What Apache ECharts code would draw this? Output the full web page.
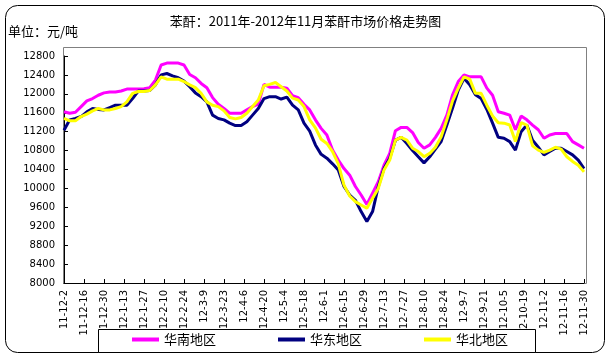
<!DOCTYPE html>
<html><head><meta charset="utf-8">
<script src="https://cdn.jsdelivr.net/npm/echarts@6/dist/echarts.min.js"></script>
<style>html,body{margin:0;padding:0;background:#fff}#c{width:611px;height:359px}</style>
</head><body><div id="c"></div>
<script>
const titleText = '苯酐：2011年-2012年11月苯酐市场价格走势图';
const unitText = '单位：元/吨';
const seriesNames = ['华南地区', '华东地区', '华北地区'];
const seriesColors = ['#FF00FF', '#000080', '#FFFF00'];
const tickLabels = ['11-12-2','11-12-16','11-12-30','12-1-13','12-1-27','12-2-10','12-2-24','12-3-9','12-3-23','12-4-6','12-4-20','12-5-4','12-5-18','12-6-1','12-6-15','12-6-29','12-7-13','12-7-27','12-8-10','12-8-24','12-9-7','12-9-21','12-10-5','12-10-19','12-11-2','12-11-16','12-11-30'];
const startDate = '2011-12-02';
const dates = [
 '2011-12-02','2011-12-06','2011-12-10','2011-12-14','2011-12-18','2011-12-22','2011-12-26','2011-12-30','2012-01-03','2012-01-07',
 '2012-01-11','2012-01-15','2012-01-19','2012-01-23','2012-01-27','2012-01-31','2012-02-04','2012-02-08','2012-02-12','2012-02-16',
 '2012-02-20','2012-02-24','2012-02-28','2012-03-03','2012-03-07','2012-03-11','2012-03-15','2012-03-19','2012-03-23','2012-03-27',
 '2012-03-31','2012-04-04','2012-04-08','2012-04-12','2012-04-16','2012-04-20','2012-04-24','2012-04-28','2012-05-02','2012-05-06',
 '2012-05-10','2012-05-14','2012-05-18','2012-05-22','2012-05-26','2012-05-30','2012-06-03','2012-06-07','2012-06-11','2012-06-15',
 '2012-06-19','2012-06-23','2012-06-27','2012-07-01','2012-07-05','2012-07-09','2012-07-13','2012-07-17','2012-07-21','2012-07-25',
 '2012-07-29','2012-08-02','2012-08-06','2012-08-10','2012-08-14','2012-08-18','2012-08-22','2012-08-26','2012-08-30','2012-09-03',
 '2012-09-07','2012-09-11','2012-09-15','2012-09-19','2012-09-23','2012-09-27','2012-10-01','2012-10-05','2012-10-09','2012-10-13',
 '2012-10-17','2012-10-21','2012-10-25','2012-10-29','2012-11-02','2012-11-06','2012-11-10','2012-11-14','2012-11-18','2012-11-22',
 '2012-11-26','2012-11-30'];
const south = [
 11620,11590,11610,11730,11850,11900,11970,12020,12040,12040,
 12060,12100,12100,12100,12110,12130,12290,12610,12650,12650,
 12650,12610,12410,12340,12220,12130,11920,11780,11690,11590,
 11590,11590,11660,11730,11780,12200,12140,12140,12140,12120,
 11960,11920,11780,11660,11450,11270,11130,10810,10600,10420,
 10280,10040,9860,9660,9900,10140,10490,10740,11220,11290,
 11290,11180,10970,10850,10920,11080,11270,11550,11980,12260,
 12400,12360,12360,12360,12120,11970,11620,11590,11550,11240,
 11530,11450,11340,11240,11060,11130,11160,11160,11160,10990,
 10920,10850];
const east = [
 11230,11450,11480,11520,11620,11690,11670,11660,11710,11760,
 11760,11760,11900,12060,12060,12070,12190,12400,12430,12380,
 12340,12270,12150,12020,11940,11830,11550,11480,11450,11380,
 11330,11330,11410,11550,11690,11900,11940,11940,11890,11930,
 11760,11660,11380,11210,10920,10720,10640,10520,10390,10040,
 9860,9750,9510,9300,9510,10040,10420,10640,11020,11080,
 10950,10800,10670,10540,10670,10830,10990,11340,11700,12080,
 12330,12190,11980,11900,11670,11380,11080,11060,10990,10810,
 11200,11340,11020,10870,10710,10780,10850,10850,10780,10710,
 10600,10420];
const north = [
 11480,11430,11430,11520,11570,11640,11690,11660,11660,11690,
 11730,11830,12010,12050,12050,12070,12190,12360,12310,12310,
 12310,12260,12190,12130,12010,11830,11760,11730,11640,11500,
 11470,11500,11590,11730,11870,12170,12200,12240,12150,12060,
 11910,11870,11730,11450,11280,11040,10950,10780,10520,10070,
 9840,9720,9650,9580,9790,10000,10390,10600,11020,11080,
 11020,10850,10780,10670,10740,10870,11090,11450,11850,12120,
 12360,12310,12010,12010,11760,11530,11390,11380,11340,10990,
 11390,11340,10900,10810,10760,10810,10870,10830,10670,10570,
 10490,10350];
const yMin = 8000, yMax = 12800, yStep = 400;
const xStepDays = 14;

const DAY = 86400000;
const dayOf = s => Math.round((Date.parse(s) - Date.parse(startDate)) / DAY);
const xDays = dates.map(dayOf);
const lastDay = dayOf('2012-11-30');
const pair = arr => arr.map((v, i) => [xDays[i], v]);
const values = [south, east, north];

const chart = echarts.init(document.getElementById('c'), null, {renderer: 'canvas'});
const font = 'DejaVu Sans';
const cjk = '"Noto Sans CJK SC", sans-serif';
chart.setOption({
  animation: false,
  backgroundColor: '#fff',
  title: {
    text: titleText, left: 'center', top: 10,
    textStyle: {fontFamily: cjk, fontSize: 13, fontWeight: 'normal', color: '#000'}
  },
  graphic: [
    {type: 'rect', z: 0, shape: {x: 5.5, y: 5.5, width: 599, height: 347, r: 12}, style: {fill: 'none', stroke: '#000', lineWidth: 1}},
    {type: 'text', z: 0, left: 8, top: 25, style: {text: unitText, font: '13px ' + cjk, fill: '#000'}},
    {type: 'rect', z: -1, shape: {x: 63.5, y: 47.5, width: 523, height: 236}, style: {fill: 'none', stroke: '#808080', lineWidth: 1}},
    {type: 'rect', z: 100, shape: {x: 98.5, y: 329.5, width: 437, height: 23}, style: {fill: '#fff', stroke: '#000', lineWidth: 1}}
  ],
  legend: {
    z: 200, left: 132, top: 333, padding: 0, icon: 'rect', itemWidth: 27, itemHeight: 4, itemGap: 62,
    textStyle: {fontFamily: cjk, fontSize: 13, color: '#000'},
    data: seriesNames
  },
  grid: {left: 64, right: 611 - 584, top: 56, bottom: 359 - 283, containLabel: false},
  xAxis: {
    type: 'value', min: 0, max: lastDay, interval: xStepDays,
    axisLine: {lineStyle: {color: '#000', width: 1}},
    axisTick: {inside: true, length: 4, lineStyle: {color: '#000'}},
    splitLine: {show: false},
    axisLabel: {
      rotate: 90, margin: 7, fontFamily: font, fontSize: 10, color: '#000',
      formatter: v => tickLabels[Math.round(v / xStepDays)] || ''
    }
  },
  yAxis: {
    type: 'value', min: yMin, max: yMax, interval: yStep,
    axisLine: {show: true, lineStyle: {color: '#000', width: 1}},
    axisTick: {show: true, inside: true, length: 4, lineStyle: {color: '#000'}},
    splitLine: {show: false},
    axisLabel: {margin: 9, fontFamily: font, fontSize: 10, color: '#000', formatter: v => String(v)}
  },
  series: values.map((arr, i) => ({
    name: seriesNames[i], type: 'line', data: pair(arr), showSymbol: false, symbol: 'none',
    lineStyle: {color: seriesColors[i], width: 3}, itemStyle: {color: seriesColors[i]}, z: 2 + i
  }))
});
</script></body></html>
